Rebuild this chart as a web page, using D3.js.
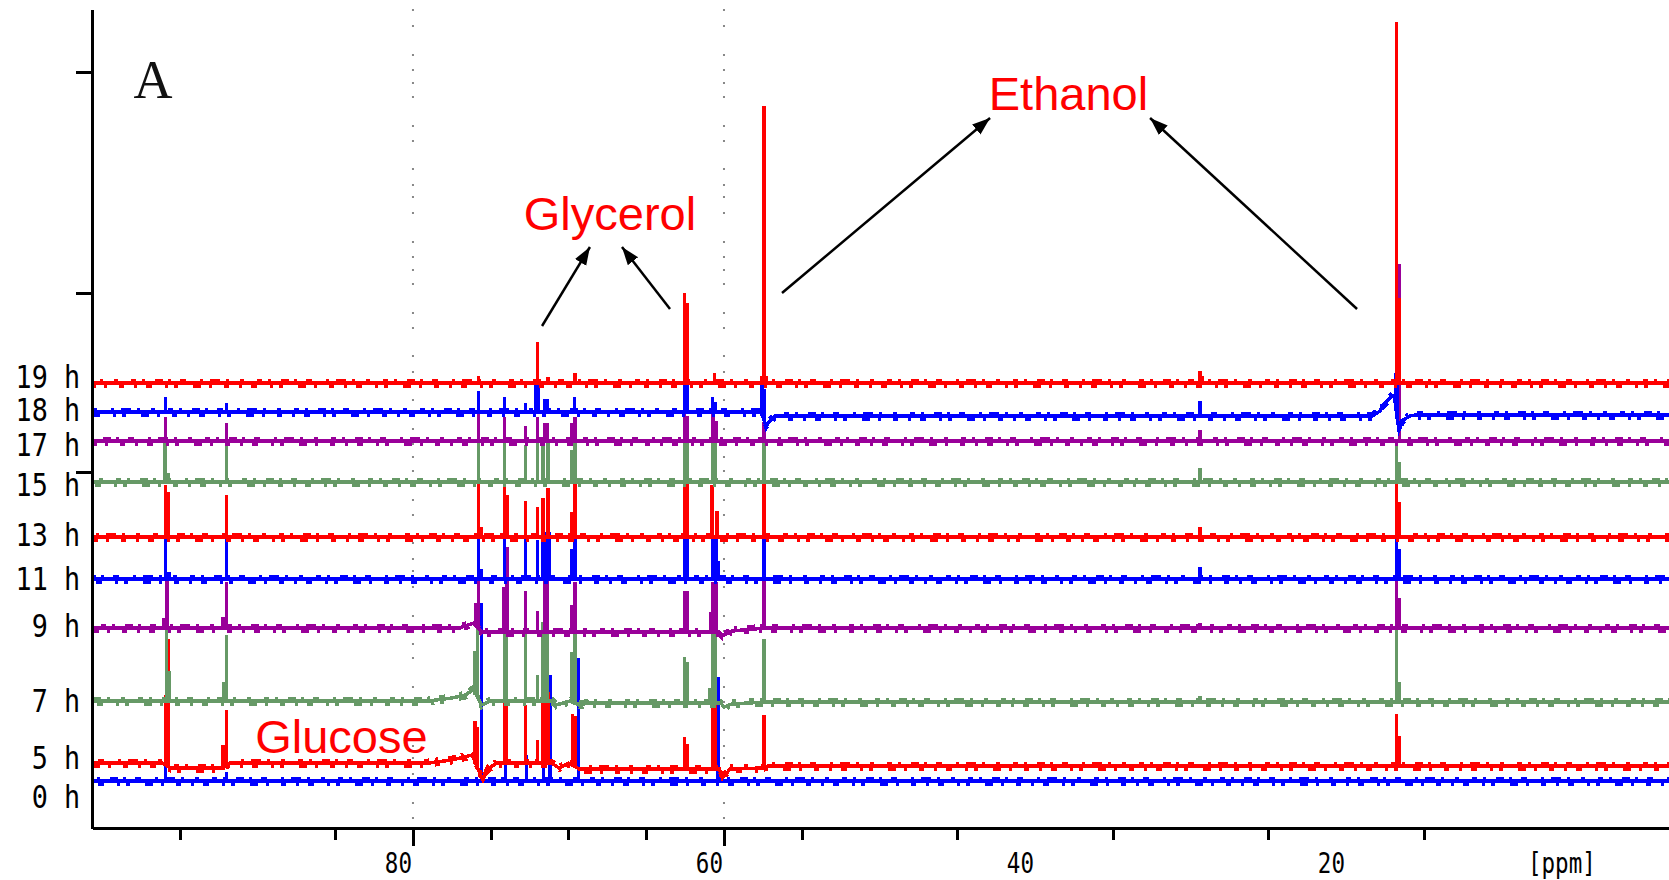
<!DOCTYPE html>
<html><head><meta charset="utf-8">
<script src="https://cdn.jsdelivr.net/npm/d3@7"></script>
<style>html,body{margin:0;padding:0;background:#fff;overflow:hidden}</style>
</head><body><svg id="c" width="1669" height="880"></svg>
<script>
// ---------------- DATA ----------------
const times = ["0 h","5 h","7 h","9 h","11 h","13 h","15 h","17 h","18 h","19 h"];
const traceColors = ["#0000ff","#ff0000","#669966","#990099","#0000ff","#ff0000","#669966","#990099","#0000ff","#ff0000"];
// vertical stacking offset of each spectrum (a.u.)
const offsets = [0.47,0.65,1.27,2.00,2.49,2.91,3.46,3.87,4.15,4.45];
// y position of the time labels (a.u.)
const labelLevels = [0.31,0.705,1.27,2.02,2.495,2.93,3.43,3.835,4.18,4.515];

// peaks: [ppm, height a.u.]
const peaks0h = [[95.92,0.26],[91.99,0.09],[75.6,1.78],[74.05,0.28],[72.7,0.26],[71.6,0.23],[71.2,1.06],[69.35,1.23],[60.4,1.04]];
const peaks5h = [[95.92,0.70],[95.72,1.28],[92.2,0.23],[91.99,0.55],[76.0,0.41],[75.85,0.41],[74.12,0.71],[74.0,0.71],[72.77,0.58],[71.99,0.23],[71.64,0.71],[71.45,0.71],[71.3,0.71],[69.75,0.51],[69.58,0.51],[62.55,0.32],[62.38,0.25],[60.75,0.67],[60.55,0.67],[57.43,0.53],[16.75,0.52],[16.6,0.30]];
const peaks7h = [[95.85,0.76],[95.7,0.30],[92.15,0.19],[91.99,0.66],[76.0,0.41],[75.85,0.79],[74.12,0.76],[74.0,0.76],[72.77,0.73],[71.99,0.26],[71.64,0.79],[71.5,0.79],[71.35,0.79],[69.8,0.50],[69.58,0.73],[62.55,0.46],[62.38,0.41],[60.9,0.15],[60.75,0.78],[60.55,0.78],[57.43,0.63],[29.39,0.06],[16.75,0.76],[16.6,0.20]];
const peaks9h = [[96.0,0.10],[95.8,0.51],[92.2,0.11],[91.99,0.46],[75.95,0.23],[75.79,0.48],[74.15,0.45],[73.95,0.85],[72.77,0.41],[71.99,0.21],[71.55,0.56],[71.35,0.56],[69.8,0.27],[69.58,0.50],[62.55,0.41],[62.38,0.41],[60.85,0.20],[60.7,0.50],[60.5,0.50],[57.43,0.49],[29.39,0.05],[16.75,0.51],[16.6,0.30]];
const peaks11h = [[95.92,0.41],[95.7,0.07],[91.99,0.41],[75.79,0.44],[75.62,0.10],[74.12,0.41],[72.77,0.41],[71.99,0.39],[71.64,0.47],[71.45,0.47],[71.25,0.47],[69.8,0.30],[69.58,0.49],[62.55,0.41],[62.38,0.41],[60.7,0.42],[60.5,0.42],[60.35,0.18],[57.43,0.41],[29.39,0.12],[16.75,0.43],[16.6,0.30]];
const peaks13h = [[95.92,0.52],[95.75,0.45],[91.99,0.42],[75.79,0.61],[75.62,0.10],[74.12,0.52],[73.95,0.42],[72.77,0.36],[71.99,0.30],[71.64,0.39],[71.32,0.49],[69.8,0.25],[69.58,0.57],[62.55,0.54],[62.38,0.54],[60.77,0.52],[60.45,0.26],[57.43,0.56],[29.39,0.10],[16.75,0.53],[16.6,0.35]];
const peaks15h = [[95.95,0.42],[95.75,0.09],[91.99,0.40],[75.79,0.44],[74.12,0.45],[72.77,0.37],[71.99,0.40],[71.64,0.43],[71.32,0.43],[69.8,0.32],[69.58,0.40],[62.55,0.40],[62.38,0.40],[60.75,0.40],[60.55,0.40],[57.43,0.42],[29.39,0.14],[16.75,0.43],[16.6,0.20]];
const peaks17h = [[95.92,0.24],[91.99,0.18],[75.79,0.28],[74.12,0.24],[72.77,0.15],[71.99,0.24],[71.5,0.18],[71.35,0.18],[69.8,0.18],[69.58,0.24],[62.55,0.31],[62.38,0.25],[60.7,0.27],[60.5,0.20],[57.43,0.19],[29.39,0.11],[16.56,1.77]];
const peaks18h = [[95.92,0.15],[91.99,0.09],[75.79,0.21],[74.12,0.15],[72.77,0.09],[72.12,0.27],[71.95,0.27],[71.55,0.13],[71.35,0.13],[69.6,0.15],[62.55,0.27],[62.38,0.27],[60.75,0.15],[60.55,0.10],[57.55,0.32],[57.4,0.32],[29.39,0.15],[16.8,0.34],[16.7,0.34]];
const peaks19h = [[75.79,0.07],[71.99,0.41],[71.3,0.06],[69.58,0.10],[62.55,0.90],[62.38,0.80],[60.6,0.10],[57.55,0.07],[57.43,2.77],[57.3,0.07],[29.39,0.12],[29.22,0.07],[16.75,3.61],[16.58,0.85]];

// baseline drift: [ppm, level a.u.]
const base0h = [[101,0],[-1,0]];
const base5h = [[101,0],[96.1,0],[95.6,-0.05],[92.2,-0.05],[91.8,0],[79,0],[77.5,0.03],[76.2,0.08],[75.5,-0.17],[75.2,-0.06],[74.6,0],[71.1,0],[70.6,-0.05],[70.0,0],[69.3,-0.06],[60.3,-0.06],[60.1,-0.15],[59.6,-0.06],[57.5,-0.05],[57.2,-0.03],[-1,-0.03]];
const base7h = [[101,0],[79,0],[77.5,0.03],[76.6,0.06],[76.1,0.12],[75.6,-0.04],[75.0,0],[71,0],[70.8,-0.04],[69.9,0],[69.3,-0.04],[68.7,-0.02],[60.2,-0.02],[60.0,-0.06],[59.5,-0.03],[57.3,-0.01],[-1,-0.01]];
const base9h = [[101,0],[77,0],[76.1,0.05],[75.6,-0.04],[60.3,-0.04],[60.1,-0.08],[59.5,-0.03],[57.3,0],[-1,0]];
const base11h = [[101,0],[-1,0]];
const base13h = [[101,0],[-1,0]];
const base15h = [[101,0],[-1,0]];
const base17h = [[101,0],[-1,0]];
const base18h = [[101,0.01],[57.6,0.01],[57.3,-0.13],[57.0,-0.07],[56.7,-0.03],[18.3,-0.03],[17.81,0.02],[17.62,0.08],[17.04,0.17],[16.9,0.17],[16.59,-0.17],[16.33,-0.07],[15.88,-0.03],[15.56,-0.02],[-1,-0.02]];
const base19h = [[101,0],[-1,0]];

const peakSets = [peaks0h,peaks5h,peaks7h,peaks9h,peaks11h,peaks13h,peaks15h,peaks17h,peaks18h,peaks19h];
const baseSets = [base0h,base5h,base7h,base9h,base11h,base13h,base15h,base17h,base18h,base19h];

// axis ticks
const minorTicks = [95,85,75,70,65,55,45,35,25,15];
const majorTicks = [80,60];
const tickLabels = [80,60,40,20];
const leftTicks = [7.56,5.35,3.56];
const guideLines = [80,60];

// ---------------- DRAW ----------------
const svg = d3.select("#c");
const x = d3.scaleLinear().domain([100.64,-0.77]).range([92,1669]);
const y = d3.scaleLinear().domain([0,8.19]).range([828,9]);

// dotted guides
svg.append("g").selectAll("line").data(guideLines).join("line")
  .attr("x1",d=>x(d)).attr("x2",d=>x(d)).attr("y1",y(8.19)).attr("y2",y(0))
  .attr("stroke","#888").attr("stroke-width",2)
  .attr("stroke-dasharray","2 14 2 27 2 13 2 11 2 12 2 27 2 13 2 26 2 14 2 10");

svg.append("clipPath").attr("id","plot").append("rect")
  .attr("x",93).attr("y",0).attr("width",1669-93).attr("height",826);
const plot = svg.append("g").attr("clip-path","url(#plot)");

function baseAt(knots,p){
  for(let i=0;i<knots.length-1;i++){
    const [p0,v0]=knots[i],[p1,v1]=knots[i+1];
    if(p<=p0 && p>=p1){const t=(p0-p)/((p0-p1)||1);return v0+t*(v1-v0);}
  }
  return 0;
}
// texture of the noisy baselines (stroke style only)
const dashUp = "5 6 3 10 8 5 3 9 6 14 3 7 10 6 3 11 4 13";
const dashDown = "3 9 6 13 3 6 4 15 8 8 3 12 5 10";

times.forEach((t,i)=>{
  const col = traceColors[i];
  const knots = baseSets[i];
  const g = plot.append("g").attr("shape-rendering","crispEdges");
  const line = d3.line().x(d=>x(d[0])).y(d=>y(offsets[i]+d[1]));
  g.append("path").attr("d",line(knots)).attr("transform","translate(0,-3)")
    .attr("fill","none").attr("stroke",col).attr("stroke-width",3)
    .attr("stroke-dasharray",dashUp).attr("stroke-dashoffset",i*37);
  g.append("path").attr("d",line(knots)).attr("transform","translate(0,3)")
    .attr("fill","none").attr("stroke",col).attr("stroke-width",3)
    .attr("stroke-dasharray",dashDown).attr("stroke-dashoffset",i*53);
  g.append("path").attr("d",line(knots)).attr("fill","none").attr("stroke",col).attr("stroke-width",3.5);
  g.selectAll("line.pk").data(peakSets[i]).join("line").attr("class","pk")
    .attr("x1",d=>x(d[0])).attr("x2",d=>x(d[0]))
    .attr("y1",d=>y(offsets[i]+baseAt(knots,d[0]))+1.5)
    .attr("y2",d=>y(offsets[i]+baseAt(knots,d[0])+d[1]))
    .attr("stroke",col).attr("stroke-width",3.6);
});

// axes
const axB = svg.append("g").attr("transform",`translate(0,${y(0)})`)
  .call(d3.axisBottom(x).tickValues(minorTicks).tickSize(12).tickSizeOuter(0).tickFormat(""));
const axB2 = svg.append("g").attr("transform",`translate(0,${y(0)})`)
  .call(d3.axisBottom(x).tickValues(majorTicks).tickSize(18).tickSizeOuter(0).tickFormat(""));
axB2.select(".domain").remove();
const axL = svg.append("g").attr("transform",`translate(${x(100.64)},0)`)
  .call(d3.axisLeft(y).tickValues(leftTicks).tickSize(16).tickSizeOuter(0).tickFormat(""));
[axB,axB2,axL].forEach(a=>{
  a.selectAll("path,line").attr("stroke","#000").attr("stroke-width",3).attr("shape-rendering","crispEdges");
});

// bottom labels
svg.append("g").selectAll("text").data(tickLabels).join("text")
  .attr("transform",d=>`translate(${x(d)-1},873) scale(0.82,1)`)
  .attr("text-anchor","end").attr("font-family","DejaVu Sans Mono").attr("font-size",27.5)
  .attr("fill","#000").text(d=>d);
svg.append("text").attr("transform",`translate(${x(8.3)},873) scale(0.82,1)`)
  .attr("font-family","DejaVu Sans Mono").attr("font-size",27.5).attr("fill","#000").text("[ppm]");

// time labels
svg.append("g").selectAll("text").data(times).join("text")
  .attr("transform",(d,i)=>`translate(80,${y(labelLevels[i])}) scale(0.85,1)`)
  .attr("dy","0.36em").attr("text-anchor","end")
  .attr("font-family","DejaVu Sans Mono").attr("font-size",31.5).attr("fill","#000").text(d=>d);

// annotations
const defs = svg.append("defs");
defs.append("marker").attr("id","ah").attr("markerUnits","userSpaceOnUse")
  .attr("markerWidth",20).attr("markerHeight",14).attr("refX",18).attr("refY",6.5).attr("orient","auto")
  .append("path").attr("d","M0,0 L18,6.5 L0,13 Z").attr("fill","#000");
const arrows = [
  [[71.70,5.02],[68.62,5.81]],
  [[63.47,5.19],[66.56,5.81]],
  [[56.27,5.35],[42.89,7.10]],
  [[19.29,5.19],[32.60,7.10]]
];
svg.append("g").selectAll("line").data(arrows).join("line")
  .attr("x1",d=>x(d[0][0])).attr("y1",d=>y(d[0][1]))
  .attr("x2",d=>x(d[1][0])).attr("y2",d=>y(d[1][1]))
  .attr("stroke","#000").attr("stroke-width",2.5).attr("marker-end","url(#ah)");

const notes = [
  {t:"Glycerol",p:67.33,v:5.98},
  {t:"Ethanol",p:37.85,v:7.18},
  {t:"Glucose",p:84.60,v:0.75}
];
svg.append("g").selectAll("text").data(notes).join("text")
  .attr("x",d=>x(d.p)).attr("y",d=>y(d.v)).attr("text-anchor","middle")
  .attr("font-family","Liberation Sans, Arial, sans-serif").attr("font-size",47)
  .attr("fill","#ff0000").text(d=>d.t);

svg.append("text").attr("x",x(96.72)).attr("y",y(7.30)).attr("text-anchor","middle")
  .attr("font-family","Liberation Serif, serif").attr("font-size",54).attr("fill","#111").text("A");
</script>
</body></html>
